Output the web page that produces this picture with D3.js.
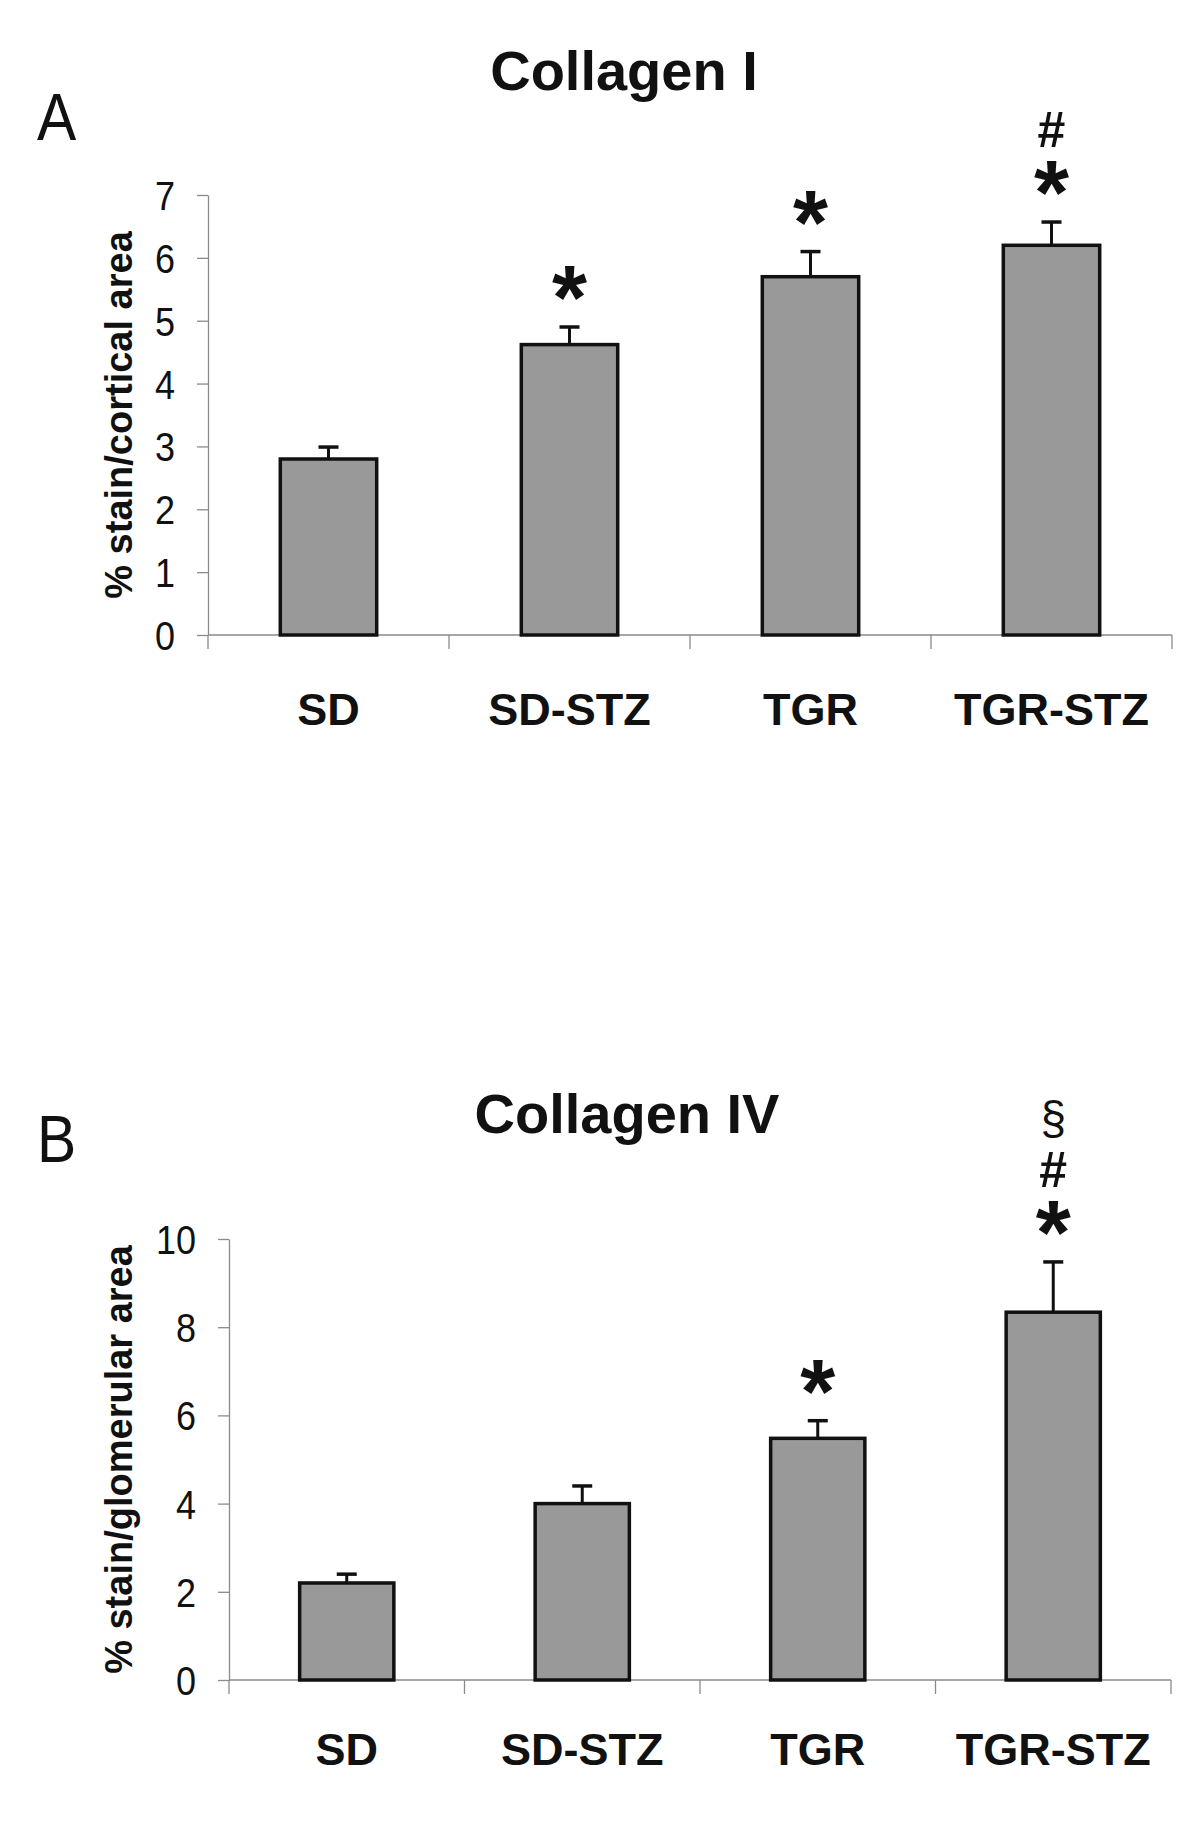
<!DOCTYPE html>
<html>
<head>
<meta charset="utf-8">
<script src="https://cdn.jsdelivr.net/npm/d3@7"></script>
<style>
  html, body { margin: 0; padding: 0; background: #fff; }
  svg { display: block; }
  text { font-family: "Liberation Sans", Arial, Helvetica, sans-serif; fill: #111; }
</style>
</head>
<body>
<svg id="chart" width="1200" height="1822"></svg>
<script>
// ---------- data ----------
const categories = ["SD", "SD-STZ", "TGR", "TGR-STZ"];

const collagenIValues = [2.8, 4.62, 5.7, 6.2];
const collagenIErrors = [0.19, 0.28, 0.4, 0.37];
const collagenIMarks  = [[], ["*"], ["*"], ["*", "#"]];
const collagenITicks  = [0, 1, 2, 3, 4, 5, 6, 7];

const collagenIVValues = [2.2, 4.0, 5.48, 8.34];
const collagenIVErrors = [0.2, 0.4, 0.4, 1.14];
const collagenIVMarks  = [[], [], ["*"], ["*", "#", "§"]];
const collagenIVTicks  = [0, 2, 4, 6, 8, 10];

const panels = [
  { letter: "A", title: "Collagen I", yLabel: "% stain/cortical area",
    values: collagenIValues, errors: collagenIErrors, marks: collagenIMarks, ticks: collagenITicks,
    x0: 208, x1: 1172, yTop: 195, yBot: 635,
    letterY: 140, titleX: 624, titleY: 90, catY: 725 },
  { letter: "B", title: "Collagen IV", yLabel: "% stain/glomerular area",
    values: collagenIVValues, errors: collagenIVErrors, marks: collagenIVMarks, ticks: collagenIVTicks,
    x0: 229, x1: 1171, yTop: 1239, yBot: 1680,
    letterY: 1162, titleX: 627, titleY: 1133, catY: 1765 }
];

const svg = d3.select("#chart");

panels.forEach(p => {
  const g = svg.append("g");
  const x = d3.scaleBand().domain(categories).range([p.x0, p.x1])
    .paddingInner(0.6).paddingOuter(0.3);
  const y = d3.scaleLinear().domain([0, d3.max(p.ticks)]).range([p.yBot, p.yTop]);

  // panel letter & title
  g.append("text").attr("transform", `translate(37,${p.letterY}) scale(0.92,1.05)`)
    .attr("font-size", 64).text(p.letter);
  g.append("text").attr("x", p.titleX).attr("y", p.titleY)
    .attr("text-anchor", "middle").attr("font-size", 56).attr("font-weight", "bold")
    .text(p.title);

  // y axis
  const yAxis = d3.axisLeft(y).tickValues(p.ticks).tickSize(11).tickSizeOuter(0).tickPadding(21)
    .tickFormat(d3.format("d"));
  const ya = g.append("g").attr("transform", `translate(${p.x0},0)`).call(yAxis);
  ya.selectAll("path.domain").attr("stroke", "#8a8a8a").attr("stroke-width", 1.3);
  ya.selectAll(".tick line").attr("stroke", "#8a8a8a").attr("stroke-width", 1.3);
  ya.selectAll(".tick text")
    .attr("x", null).attr("dy", null)
    .attr("transform", "translate(-33,14.5) scale(0.9,1.03)")
    .attr("font-size", 40).attr("fill", "#111")
    .attr("font-family", "\"Liberation Sans\", Arial, sans-serif");

  // x axis line with category boundary ticks
  g.append("line").attr("x1", p.x0).attr("x2", p.x1)
    .attr("y1", y(0)).attr("y2", y(0))
    .attr("stroke", "#8a8a8a").attr("stroke-width", 1.3);
  const bounds = d3.range(categories.length + 1).map(i => p.x0 + i * x.step());
  g.selectAll("line.ctick").data(bounds).join("line").attr("class", "ctick")
    .attr("x1", d => d).attr("x2", d => d)
    .attr("y1", y(0)).attr("y2", y(0) + 14)
    .attr("stroke", "#8a8a8a").attr("stroke-width", 1.3);

  // category labels
  g.selectAll("text.cat").data(categories).join("text").attr("class", "cat")
    .attr("x", d => x(d) + x.bandwidth() / 2).attr("y", p.catY)
    .attr("text-anchor", "middle").attr("font-size", 45).attr("font-weight", "bold")
    .text(d => d);

  // y label
  g.append("text")
    .attr("transform", `translate(132,${(p.yTop + p.yBot) / 2}) rotate(-90)`)
    .attr("text-anchor", "middle").attr("font-size", 38).attr("font-weight", "bold")
    .text(p.yLabel);

  const data = categories.map((c, i) => ({ c, v: p.values[i], e: p.errors[i], m: p.marks[i] }));

  // error bars
  g.selectAll("line.err").data(data).join("line").attr("class", "err")
    .attr("x1", d => x(d.c) + x.bandwidth() / 2).attr("x2", d => x(d.c) + x.bandwidth() / 2)
    .attr("y1", d => y(d.v)).attr("y2", d => y(d.v + d.e))
    .attr("stroke", "#111").attr("stroke-width", 3);
  g.selectAll("line.cap").data(data).join("line").attr("class", "cap")
    .attr("x1", d => x(d.c) + x.bandwidth() / 2 - 10).attr("x2", d => x(d.c) + x.bandwidth() / 2 + 10)
    .attr("y1", d => y(d.v + d.e)).attr("y2", d => y(d.v + d.e))
    .attr("stroke", "#111").attr("stroke-width", 3.5);

  // bars
  g.selectAll("rect.bar").data(data).join("rect").attr("class", "bar")
    .attr("x", d => x(d.c)).attr("width", x.bandwidth())
    .attr("y", d => y(d.v)).attr("height", d => y(0) - y(d.v))
    .attr("fill", "#999999").attr("stroke", "#111").attr("stroke-width", 3.5);

  // significance marks
  data.filter(d => d.m.length).forEach(d => {
    const cx = x(d.c) + x.bandwidth() / 2;
    let cy = y(d.v + d.e) - 41; // ink centre of the first mark
    d.m.forEach((s, k) => {
      if (k > 0) cy -= (s === "§" ? 53 : 50);
      if (s === "*") {
        g.append("text").attr("text-anchor", "middle")
          .attr("transform", `translate(${cx},${cy + 43}) scale(1.5)`)
          .attr("font-size", 60).attr("font-weight", "bold").text(s);
      } else if (s === "#") {
        g.append("text").attr("text-anchor", "middle").attr("x", cx).attr("y", cy + 16)
          .attr("font-size", 50).attr("font-weight", "bold").text(s);
      } else {
        g.append("text").attr("text-anchor", "middle").attr("x", cx).attr("y", cy + 16)
          .attr("font-size", 46).text(s);
      }
    });
  });
});
</script>
</body>
</html>
